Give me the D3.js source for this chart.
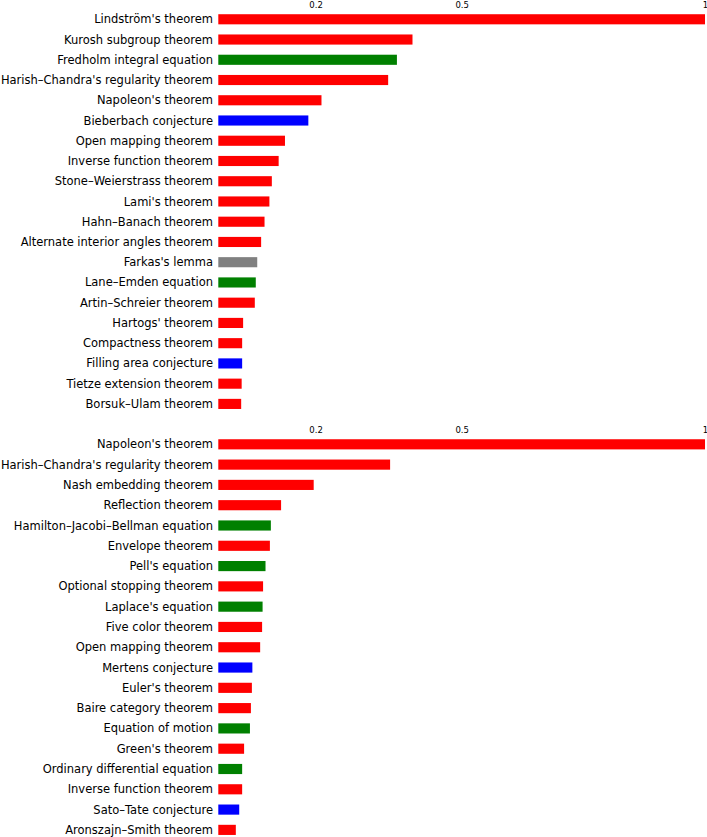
<!DOCTYPE html>
<html>
<head>
<meta charset="utf-8">
<script src="https://cdn.jsdelivr.net/npm/d3@7"></script>
<style>
  html, body { margin: 0; padding: 0; background: #fff; }
  svg { display: block; }
</style>
</head>
<body>
<svg id="chart" width="707" height="837"></svg>
<script>
const topCategories = ["Lindström's theorem","Kurosh subgroup theorem","Fredholm integral equation","Harish–Chandra's regularity theorem","Napoleon's theorem","Bieberbach conjecture","Open mapping theorem","Inverse function theorem","Stone–Weierstrass theorem","Lami's theorem","Hahn–Banach theorem","Alternate interior angles theorem","Farkas's lemma","Lane–Emden equation","Artin–Schreier theorem","Hartogs' theorem","Compactness theorem","Filling area conjecture","Tietze extension theorem","Borsuk–Ulam theorem"];
const topValues = [1, 0.399, 0.367, 0.349, 0.212, 0.185, 0.137, 0.124, 0.110, 0.105, 0.095, 0.088, 0.080, 0.077, 0.075, 0.051, 0.049, 0.049, 0.048, 0.047];
const topTypes = ["theorem","theorem","equation","theorem","theorem","conjecture","theorem","theorem","theorem","theorem","theorem","theorem","lemma","equation","theorem","theorem","theorem","conjecture","theorem","theorem"];

const bottomCategories = ["Napoleon's theorem","Harish–Chandra's regularity theorem","Nash embedding theorem","Reflection theorem","Hamilton–Jacobi–Bellman equation","Envelope theorem","Pell's equation","Optional stopping theorem","Laplace's equation","Five color theorem","Open mapping theorem","Mertens conjecture","Euler's theorem","Baire category theorem","Equation of motion","Green's theorem","Ordinary differential equation","Inverse function theorem","Sato–Tate conjecture","Aronszajn–Smith theorem"];
const bottomValues = [1, 0.353, 0.196, 0.129, 0.108, 0.106, 0.097, 0.092, 0.091, 0.090, 0.086, 0.070, 0.069, 0.067, 0.065, 0.053, 0.049, 0.049, 0.043, 0.036];
const bottomTypes = ["theorem","theorem","theorem","theorem","equation","theorem","equation","theorem","equation","theorem","theorem","conjecture","theorem","theorem","equation","theorem","equation","theorem","conjecture","theorem"];

const tickValues = [0.2, 0.5, 1];
const tickLabels = ["0.2", "0.5", "1"];

const typeColors = { theorem: "#ff0000", equation: "#008000", conjecture: "#0000ff", lemma: "#808080" };

const svg = d3.select("#chart");
const x = d3.scaleLinear().domain([0, 1]).range([218.3, 705]);

function panel(cats, vals, types, y0, y1, tickY) {
  const g = svg.append("g");
  const y = d3.scaleBand().domain(cats).range([y0, y1]).padding(0.5);

  const axis = d3.axisTop(x).tickValues(tickValues).tickFormat((d, i) => tickLabels[i]).tickSize(0).tickPadding(0);
  const ax = g.append("g").attr("transform", `translate(0,${tickY})`).call(axis);
  ax.select(".domain").remove();
  ax.selectAll("text").attr("font-family", "DejaVu Sans, sans-serif").attr("font-size", 8.5).attr("fill", "#000");

  g.selectAll("rect").data(cats).join("rect")
    .attr("x", x(0))
    .attr("y", d => y(d))
    .attr("width", (d, i) => x(vals[i]) - x(0))
    .attr("height", y.bandwidth())
    .attr("fill", (d, i) => typeColors[types[i]]);

  g.selectAll("text.lbl").data(cats).join("text")
    .attr("class", "lbl")
    .attr("x", 213)
    .attr("y", d => y(d) + y.bandwidth() / 2)
    .attr("dy", "0.35em")
    .attr("text-anchor", "end")
    .attr("font-family", "DejaVu Sans, sans-serif")
    .attr("font-size", 11.5)
    .attr("fill", "#000")
    .text(d => d);
}

panel(topCategories, topValues, topTypes, 4.1, 419.1, 8);
panel(bottomCategories, bottomValues, bottomTypes, 429.1, 845.1, 433);
</script>
</body>
</html>
